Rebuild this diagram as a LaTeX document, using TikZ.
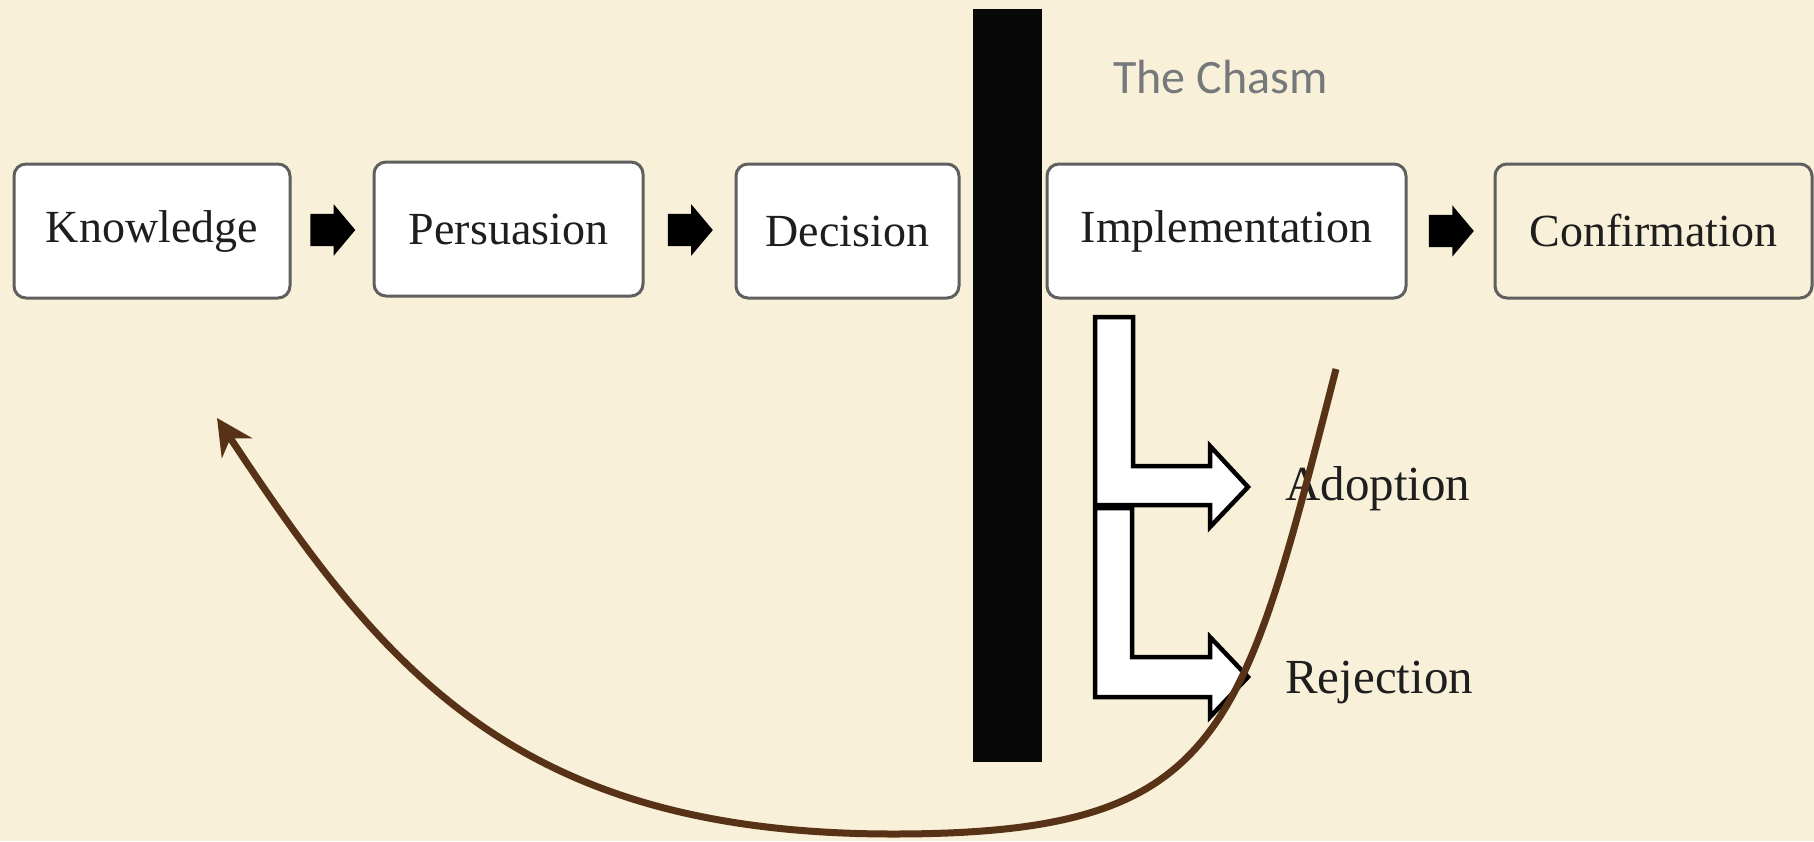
\documentclass[tikz,border=0pt]{standalone}
\usepackage{fontspec}
\setmainfont{Liberation Serif}
\newfontfamily\chasmfont{Carlito}
\usetikzlibrary{shapes.misc, shapes.arrows, calc, arrows.meta}
\definecolor{parchment}{RGB}{248,240,216}
\definecolor{chasmgray}{RGB}{117,121,123}
\definecolor{chasmblack}{RGB}{8,8,8}
\definecolor{loopbrown}{RGB}{88,50,22}
\definecolor{edgegray}{RGB}{95,95,95}
\definecolor{inkgray}{RGB}{30,30,30}

\begin{document}
\begin{tikzpicture}[x=1pt,y=-1pt]
        \tikzstyle{stage}=[rectangle, rounded corners=12pt, draw=edgegray, line width=3pt, fill=white, minimum height=134pt, inner sep=0pt, text=inkgray, font=\fontsize{46}{50}\selectfont]
        \tikzstyle{blockarrow}=[single arrow, fill=black, inner xsep=0pt, inner ysep=16pt, minimum height=45pt, single arrow head extend=9.5pt, single arrow tip angle=100, xshift=-6pt]
        \tikzstyle{branch}=[draw=black, line width=4.5pt, fill=white, line join=miter]
        \tikzstyle{outcome}=[anchor=base west, inner sep=0pt, text=inkgray, font=\fontsize{49}{54}\selectfont]
        \tikzstyle{feedback}=[draw=loopbrown, line width=7pt, -{Stealth[length=36pt,width=36pt]}]
        % Background of the slide
        \fill[parchment] (0,0) rectangle (1814,841);
        % The chasm itself
        \fill[chasmblack] (973,9) rectangle (1042,762);
        \node (title)[anchor=base west, inner sep=0pt, text=chasmgray, font=\chasmfont\fontsize{48}{52}\selectfont] at (1113,93) {The Chasm};
        % Stages of the decision process
        \node (k)[stage, minimum width=276pt] at (152,231) {Knowledge};
        \node (p)[stage, minimum width=269pt] at (508.5,229) {Persuasion};
        \node (d)[stage, minimum width=223pt] at (847.5,231) {Decision};
        \node (i)[stage, minimum width=359pt] at (1226.5,231) {Implementation};
        \node (c)[stage, minimum width=317pt, fill=parchment] at (1653.5,231) {Confirmation};
        % Black arrows between the stages
        \node (a1)[blockarrow] at ($(k.east)!0.5!(p.west)$) {};
        \node (a2)[blockarrow] at ($(p.east)!0.5!(d.west)$) {};
        \node (a3)[blockarrow] at ($(i.east)!0.5!(c.west)$) {};
        % Hollow branching arrows below Implementation
        \draw[branch] (1095,317) -- (1133,317) -- (1133,466) -- (1210,466) -- (1210,446)
            -- (1248,487) -- (1210,527) -- (1210,505) -- (1095,505) -- cycle;
        \draw[branch] (1095,508) -- (1132,508) -- (1132,657) -- (1210,657) -- (1210,637)
            -- (1248,677) -- (1210,717) -- (1210,697) -- (1095,697) -- cycle;
        \node (adopt)[outcome] at (1285,500) {Adoption};
        \node (reject)[outcome] at (1285,693) {Rejection};
        % Loop back to Knowledge
        \coordinate (rs) at (1336,369);
        \coordinate (kb) at (217,418);
        \draw[feedback] (rs) .. controls (1241,739) and (1223,834) .. (893,834)
            .. controls (513,834) and (382,667) .. (kb);
\end{tikzpicture}
\end{document}
